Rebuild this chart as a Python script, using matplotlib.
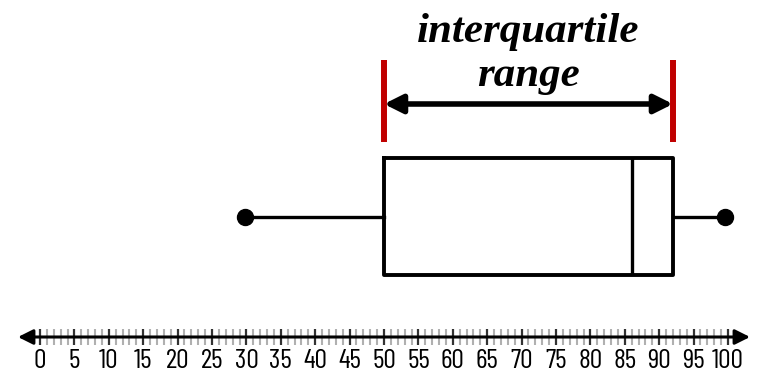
import numpy as np
import matplotlib.pyplot as plt

# five-number summary
stat_min, q1, med, q3, stat_max = 29.8, 50, 86, 92, 99.6
tick_values = list(range(0, 101))
label_values = list(range(0, 101, 5))
title_lines = ['interquartile', 'range']

fig = plt.figure(figsize=(7.6, 3.75), dpi=100)
ax = fig.add_axes([0, 0, 1, 1])
ax.set_xlim(-40 / 6.88, 720 / 6.88)
ax.set_ylim(375, 0)   # vertical coordinate in pixels, top down
ax.axis('off')

# --- box and whiskers ---
ax.bxp([dict(whislo=stat_min, q1=q1, med=med, q3=q3, whishi=stat_max, fliers=[])],
       positions=[216.5], widths=117, orientation='horizontal', showcaps=False,
       boxprops=dict(color='black', lw=2.8),
       whiskerprops=dict(color='black', lw=2.4),
       medianprops=dict(color='black', lw=2.4))
ax.plot([stat_min, stat_max], [217, 217], 'o', color='black', ms=11.5, zorder=4)

# --- interquartile range marker ---
for v in (q1, q3):
    ax.vlines(v, 60, 142, color='#c00000', lw=4.3, zorder=3)
ax.annotate('', xy=(q1, 104), xytext=(q3, 104),
            arrowprops=dict(arrowstyle='<|-|>, head_length=1.1, head_width=0.55',
                            color='black', lw=4, shrinkA=0, shrinkB=0))
mid = (q1 + q3) / 2
for txt, yb in zip(title_lines, (42, 86)):
    ax.text(mid, yb, txt, ha='center', va='baseline', fontsize=31,
            family='Liberation Serif', weight='bold', style='italic')

# --- number line ---
ax.annotate('', xy=(-3.2, 337), xytext=(103.2, 337),
            arrowprops=dict(arrowstyle='<|-|>, head_length=0.9, head_width=0.45',
                            color='black', lw=2.2, shrinkA=0, shrinkB=0))
minor = [t for t in tick_values if t % 5]
ax.vlines(minor, 329, 345, color='#b0b0b0', lw=1.5)
ax.vlines(label_values, 329, 345, color='#333333', lw=1.6)
for v in label_values:
    ax.text(v, 361, str(v), ha='center', va='center', fontsize=20,
            family=['Barlow Condensed', 'Liberation Sans'])

fig.savefig('out.png', dpi=100)
